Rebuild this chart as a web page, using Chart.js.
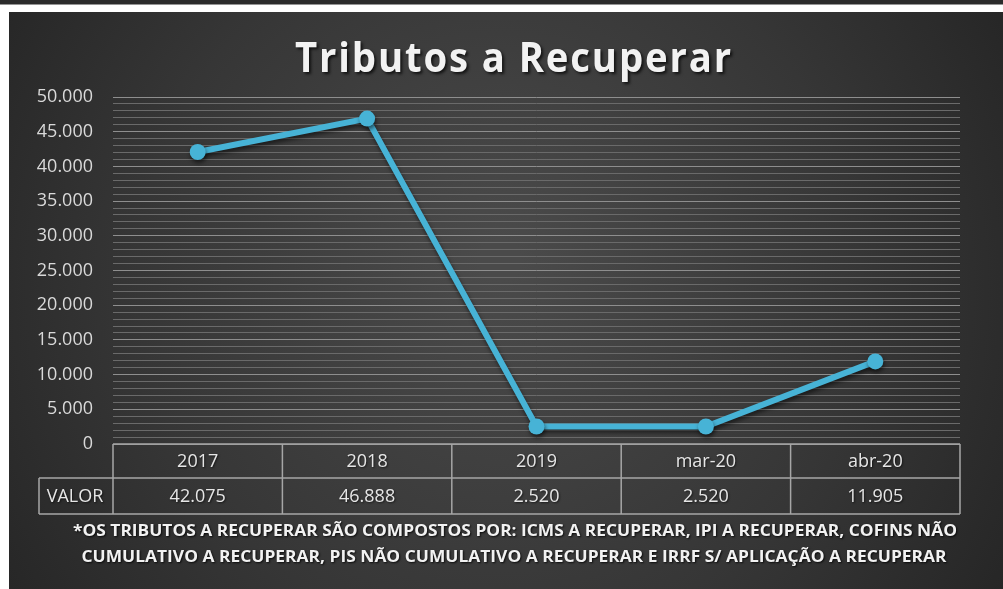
<!DOCTYPE html>
<html>
<head>
<meta charset="utf-8">
<script src="https://cdn.jsdelivr.net/npm/chart.js@4.4.0/dist/chart.umd.min.js"></script>
<style>
    html, body { margin: 0; padding: 0; background: #fff; }
    canvas { display: block; }
</style>
</head>
<body>
<canvas id="tributosChart" width="1003" height="589"></canvas>
<script>
// Chart data
const categories = ['2017', '2018', '2019', 'mar-20', 'abr-20'];
const values = [42075, 46888, 2520, 2520, 11905];
const yTicks = [0, 5000, 10000, 15000, 20000, 25000, 30000, 35000, 40000, 45000, 50000];
const minorStep = 1000;
const titleText = 'Tributos a Recuperar';
const rowLabel = 'VALOR';
const footnote = [
    '*OS TRIBUTOS A RECUPERAR SÃO COMPOSTOS POR: ICMS A RECUPERAR, IPI A RECUPERAR, COFINS NÃO',
    'CUMULATIVO A RECUPERAR, PIS NÃO CUMULATIVO A RECUPERAR E IRRF S/ APLICAÇÃO A RECUPERAR'
];

function fmt(v) {
    return String(v).replace(/\B(?=(\d{3})+(?!\d))/g, '.');
}

// Draw text squeezed/stretched to a given width
function fitText(ctx, text, cx, cy, width) {
    const w = ctx.measureText(text).width;
    ctx.save();
    ctx.translate(cx, cy);
    ctx.scale(width / w, 1);
    ctx.fillText(text, 0, 0);
    ctx.restore();
}

// Background frame + gradient
const backgroundPlugin = {
    id: 'background',
    beforeDraw(chart) {
        const ctx = chart.ctx;
        ctx.save();
        ctx.fillStyle = '#ffffff';
        ctx.fillRect(0, 0, chart.width, chart.height);
        ctx.fillStyle = '#2b2b2b';
        ctx.fillRect(0, 0, chart.width, 4.5);
        const g = ctx.createRadialGradient(500, 260, 20, 500, 300, 640);
        g.addColorStop(0, '#4a4a4a');
        g.addColorStop(0.55, '#363636');
        g.addColorStop(1, '#222222');
        ctx.fillStyle = g;
        ctx.fillRect(9, 12, chart.width - 9, chart.height - 12);
        ctx.restore();
    }
};

// Line shadow
const shadowPlugin = {
    id: 'lineShadow',
    beforeDatasetsDraw(chart) {
        const ctx = chart.ctx;
        ctx.save();
        ctx.shadowColor = 'rgba(0,0,0,0.55)';
        ctx.shadowBlur = 4;
        ctx.shadowOffsetX = 1;
        ctx.shadowOffsetY = 3;
    },
    afterDatasetsDraw(chart) {
        chart.ctx.restore();
    }
};

// Title, data table and footnote
const extrasPlugin = {
    id: 'extras',
    afterDraw(chart) {
        const ctx = chart.ctx;
        const area = chart.chartArea;
        const x = chart.scales.x;
        const top = area.bottom;
        const mid = top + 34;
        const bottom = top + 70;
        const cellW = (area.right - area.left) / categories.length;

        ctx.save();

        // title
        ctx.font = 'bold 41px "Open Sans"';
        ctx.letterSpacing = '2px';
        ctx.textAlign = 'center';
        ctx.textBaseline = 'middle';
        ctx.shadowColor = 'rgba(0,0,0,0.7)';
        ctx.shadowBlur = 3;
        ctx.shadowOffsetX = 2;
        ctx.shadowOffsetY = 2;
        ctx.fillStyle = '#f2f2f2';
        fitText(ctx, titleText, 514, 60, 438);
        ctx.letterSpacing = '0px';
        ctx.shadowColor = 'transparent';

        // table grid
        ctx.strokeStyle = '#a6a6a6';
        ctx.lineWidth = 1.5;
        ctx.beginPath();
        ctx.moveTo(area.left, top);
        ctx.lineTo(area.right, top);
        ctx.moveTo(39, mid);
        ctx.lineTo(area.right, mid);
        ctx.moveTo(39, bottom);
        ctx.lineTo(area.right, bottom);
        ctx.moveTo(39, mid);
        ctx.lineTo(39, bottom);
        for (let i = 0; i <= categories.length; i++) {
            const lx = area.left + i * cellW;
            ctx.moveTo(lx, top);
            ctx.lineTo(lx, bottom);
        }
        ctx.stroke();

        // table text
        ctx.font = '18px "Open Sans"';
        ctx.fillStyle = '#e6e6e6';
        ctx.shadowColor = 'rgba(0,0,0,0.6)';
        ctx.shadowBlur = 2;
        ctx.shadowOffsetX = 1;
        ctx.shadowOffsetY = 1;
        categories.forEach((c, i) => {
            const cx = x.getPixelForValue(i);
            ctx.fillText(c, cx, (top + mid) / 2 + 1);
            ctx.fillText(fmt(values[i]), cx, (mid + bottom) / 2 + 1);
        });
        ctx.fillText(rowLabel, 75, (mid + bottom) / 2 + 1);

        // footnote
        ctx.font = 'bold 16px "Open Sans"';
        ctx.fillStyle = '#f2f2f2';
        ctx.shadowColor = 'rgba(0,0,0,0.8)';
        fitText(ctx, footnote[0], 515, 531, 884);
        fitText(ctx, footnote[1], 514, 557, 865);

        ctx.restore();
    }
};

new Chart(document.getElementById('tributosChart'), {
    type: 'line',
    data: {
        labels: categories,
        datasets: [{
            data: values,
            borderColor: '#47b3d6',
            backgroundColor: '#47b3d6',
            borderWidth: 6,
            pointRadius: 8,
            pointHoverRadius: 8,
            pointBorderWidth: 0,
            tension: 0
        }]
    },
    options: {
        responsive: false,
        animation: false,
        layout: {
            padding: { top: 97, bottom: 145, left: 0, right: 43 }
        },
        plugins: {
            legend: { display: false },
            tooltip: { enabled: false }
        },
        scales: {
            x: {
                display: false,
                offset: true
            },
            y: {
                min: yTicks[0],
                max: yTicks[yTicks.length - 1],
                afterFit(scale) { scale.width = 113; },
                // one grid line per 1.000, labels only on the 5.000 steps
                afterBuildTicks(scale) {
                    const t = [];
                    for (let v = scale.min; v <= scale.max; v += minorStep) t.push({ value: v });
                    scale.ticks = t;
                },
                border: { display: false },
                grid: {
                    drawTicks: false,
                    lineWidth: 1,
                    color: ctx => (ctx.tick && yTicks.includes(ctx.tick.value)) ? '#8e8e8e' : '#6a6a6a'
                },
                ticks: {
                    autoSkip: false,
                    padding: 20,
                    color: '#d9d9d9',
                    font: { family: '"Open Sans"', size: 18 },
                    callback: v => yTicks.includes(v) ? fmt(v) : ''
                }
            }
        }
    },
    plugins: [backgroundPlugin, shadowPlugin, extrasPlugin]
});
</script>
</body>
</html>
